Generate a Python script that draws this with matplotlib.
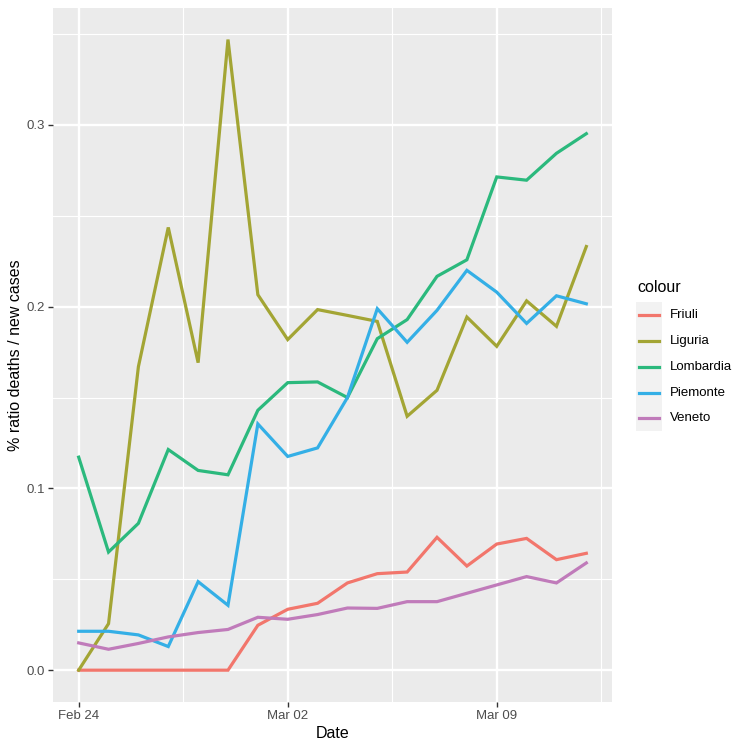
import matplotlib
matplotlib.use("Agg")
import matplotlib.pyplot as plt
import matplotlib.dates as mdates
import numpy as np
import pandas as pd
from matplotlib.lines import Line2D
from matplotlib.patches import Rectangle

plt.rcParams['font.family'] = ['Liberation Sans', 'DejaVu Sans']

dates = pd.date_range("2020-02-24", "2020-03-12", freq="D")

friuli = [0, 0, 0, 0, 0, 0, 0.0247, 0.0335, 0.0368, 0.048, 0.0531, 0.054,
          0.0731, 0.0573, 0.0694, 0.0725, 0.0608, 0.0643]
liguria = [0, 0.0256, 0.167, 0.2436, 0.1692, 0.347, 0.2066, 0.1819, 0.1984,
           0.1952, 0.1919, 0.1397, 0.154, 0.1943, 0.1782, 0.2032, 0.1892, 0.2331]
lombardia = [0.1172, 0.065, 0.0808, 0.1214, 0.1099, 0.1075, 0.143, 0.1582,
             0.1586, 0.150, 0.1824, 0.1929, 0.2167, 0.2258, 0.2714, 0.2696,
             0.2844, 0.2952]
piemonte = [0.0214, 0.0214, 0.0194, 0.013, 0.0487, 0.0357, 0.1355, 0.1176,
            0.1223, 0.150, 0.1989, 0.1804, 0.198, 0.220, 0.208, 0.1908,
            0.206, 0.2016]
veneto = [0.015, 0.0115, 0.0147, 0.0183, 0.0207, 0.0224, 0.0291, 0.028,
          0.0306, 0.0342, 0.034, 0.0377, 0.0377, 0.0423, 0.0469, 0.0515,
          0.048, 0.059]

series_names = ["Friuli", "Liguria", "Lombardia", "Piemonte", "Veneto"]
series_vals = [friuli, liguria, lombardia, piemonte, veneto]
colors = ["#F2766C", "#A3A534", "#2BB97D", "#34AFE6", "#C07BBA"]

fig = plt.figure(figsize=(7.5, 7.5), dpi=100)
W, H = 750, 750
left, right, top, bottom = 53.3, 611.7, 8, 701.7
ax = fig.add_axes([left / W, 1 - bottom / H, (right - left) / W, (bottom - top) / H])
ax.set_facecolor("#EBEBEB")

for name, vals, c in zip(series_names, series_vals, colors):
    ax.plot(dates, vals, color=c, lw=2.3, solid_joinstyle="miter", zorder=3)

# limits with ggplot-style 5% expansion
d0 = mdates.date2num(dates[0]); d1 = mdates.date2num(dates[-1])
xr = d1 - d0
ax.set_xlim(d0 - 0.05 * xr, d1 + 0.05 * xr)
allv = np.concatenate([np.array(v) for v in series_vals])
ymin, ymax = allv.min(), allv.max()
yr = ymax - ymin
ax.set_ylim(ymin - 0.05 * yr, ymax + 0.05 * yr)

major_dates = pd.to_datetime(["2020-02-24", "2020-03-02", "2020-03-09"])
ax.set_xticks(mdates.date2num(major_dates))
ax.set_xticklabels(["Feb 24", "Mar 02", "Mar 09"])
minor_x = [mdates.date2num(pd.Timestamp("2020-02-27 12:00")),
           mdates.date2num(pd.Timestamp("2020-03-05 12:00")),
           mdates.date2num(pd.Timestamp("2020-03-12 12:00"))]
ax.set_xticks(minor_x, minor=True)
ax.set_yticks([0.0, 0.1, 0.2, 0.3])
ax.set_yticklabels(["0.0", "0.1", "0.2", "0.3"])
ax.set_yticks([0.05, 0.15, 0.25, 0.35], minor=True)

ax.grid(which="major", color="white", lw=1.7, zorder=0)
ax.grid(which="minor", color="white", lw=0.8, zorder=0)
ax.set_axisbelow(True)
for s in ax.spines.values():
    s.set_visible(False)
ax.tick_params(which="major", length=3.5, width=1.0, color="#333333",
               labelcolor="#4D4D4D", labelsize=9.5, pad=2.5)
ax.tick_params(which="minor", length=0)

ax.set_xlabel("Date", fontsize=11.5, color="black")
ax.xaxis.set_label_coords(0.5, -(733 - bottom) / (bottom - top))
ax.set_ylabel("% ratio deaths / new cases", fontsize=11.5, color="black")
ax.yaxis.set_label_coords(-(left - 16) / (right - left), 0.5)
ax.yaxis.label.set_verticalalignment("center")
ax.xaxis.label.set_verticalalignment("center")

# legend drawn manually (ggplot style)
fig.text(637 / W, 1 - 288 / H, "colour", fontsize=11.5, va="center", ha="left")
row_y = [315, 341, 367, 393, 418]
for name, c, yy in zip(series_names, colors, row_y):
    fig.patches.append(Rectangle((636 / W, 1 - (yy + 12.8) / H), 25.7 / W, 25.6 / H,
                                 transform=fig.transFigure, facecolor="#F2F2F2",
                                 edgecolor="none"))
    fig.lines.append(Line2D([639 / W, 659 / W], [1 - yy / H, 1 - yy / H],
                            transform=fig.transFigure, color=c, lw=2.3))
    fig.text(670 / W, 1 - yy / H, name, fontsize=9.5, va="center", ha="left",
             color="black")

fig.savefig("out.png", dpi=100, facecolor="white")
